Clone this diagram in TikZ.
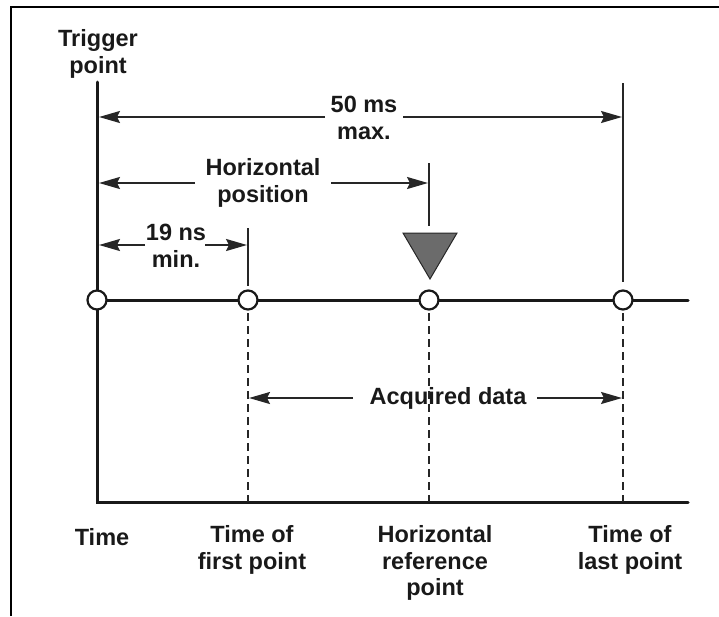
\documentclass[tikz,border=0pt]{standalone}
\usepackage{fontspec}
\setmainfont{Liberation Sans}
\usetikzlibrary{arrows.meta}
\begin{document}
\begin{tikzpicture}[x=1pt,y=-1pt,
  lbl/.style={font=\bfseries\fontsize{23.5}{26.5}\selectfont, align=center, inner sep=1pt, text=black!90},
  frameln/.style={line width=2pt, black},
  mainln/.style={line width=3pt, black!90, line cap=round},
  thinln/.style={line width=2pt, black!85},
  dsh/.style={line width=2pt, black!85, dash pattern=on 8pt off 5pt},
  arr/.style={line width=2pt, black!85, -{Stealth[length=21pt,width=12pt,inset=3pt]}},
  dot/.style={circle, draw=black!90, line width=2.2pt, fill=white, minimum size=19pt, inner sep=0pt}]
\useasboundingbox (0,0) rectangle (719,616);
\draw[frameln] (11,616) -- (11,7) -- (719,7);
% coordinates
\coordinate (T) at (97,82);
\coordinate (O) at (97,502);
\coordinate (E) at (688,502);
\coordinate (L) at (688,300);
\coordinate (P0) at (97,300);
\coordinate (P1) at (248,300);
\coordinate (P2) at (429,300);
\coordinate (P3) at (623,300);
\coordinate (B1) at (248,502);
\coordinate (B2) at (429,502);
\coordinate (B3) at (623,502);
\coordinate (U1) at (248,228);
\coordinate (V1) at (248,286);
\coordinate (U2) at (429,163);
\coordinate (V2) at (429,226);
\coordinate (U3) at (623,83);
\coordinate (V3) at (623,282);
% axes
\draw[mainln] (T) -- (O) -- (E);
\draw[mainln] (P0) -- (L);
\draw[dsh] (P1) -- (B1);
\draw[dsh] (P2) -- (B2);
\draw[dsh] (P3) -- (B3);
\draw[thinln] (U1) -- (V1);
\draw[thinln] (U2) -- (V2);
\draw[thinln] (U3) -- (V3);
% reference marker
\filldraw[fill=black!58, draw=black!85, line width=1pt] (403,233) -- (457,233) -- (430,279) -- cycle;
% points
\node[dot] (c0) at (P0) {};
\node[dot] (c1) at (P1) {};
\node[dot] (c2) at (P2) {};
\node[dot] (c3) at (P3) {};
% labels
\node[lbl] (trig) at (98,54) {Trigger\\point};
\node[lbl] (m50) at (364,118) {50 ms\\max.};
\node[lbl] (hpos) at (263,183) {Horizontal\\position};
\node[lbl] (n19) at (176,246) {19 ns\\min.};
\node[lbl] (acq) at (448,398) {Acquired data};
\node[lbl] (tm) at (102,537) {Time};
\node[lbl] (tf) at (252,550) {Time of\\first point};
\node[lbl] (hr) at (435,563) {Horizontal\\reference\\point};
\node[lbl] (tl) at (630,550) {Time of\\last point};
% dimension arrows
\coordinate (a50a) at (325,117); \coordinate (a50b) at (99,117);
\coordinate (a50c) at (403,117); \coordinate (a50d) at (622,117);
\coordinate (hpa) at (195,183); \coordinate (hpb) at (99,183);
\coordinate (hpc) at (331,183); \coordinate (hpd) at (428,183);
\coordinate (nsa) at (145,245); \coordinate (nsb) at (99,245);
\coordinate (nsc) at (205,245); \coordinate (nsd) at (247,245);
\coordinate (aqa) at (353,398); \coordinate (aqb) at (249,398);
\coordinate (aqc) at (537,398); \coordinate (aqd) at (622,398);
\draw[arr] (a50a) -- (a50b);
\draw[arr] (a50c) -- (a50d);
\draw[arr] (hpa) -- (hpb);
\draw[arr] (hpc) -- (hpd);
\draw[arr] (nsa) -- (nsb);
\draw[arr] (nsc) -- (nsd);
\draw[arr] (aqa) -- (aqb);
\draw[arr] (aqc) -- (aqd);
\end{tikzpicture}
\end{document}
